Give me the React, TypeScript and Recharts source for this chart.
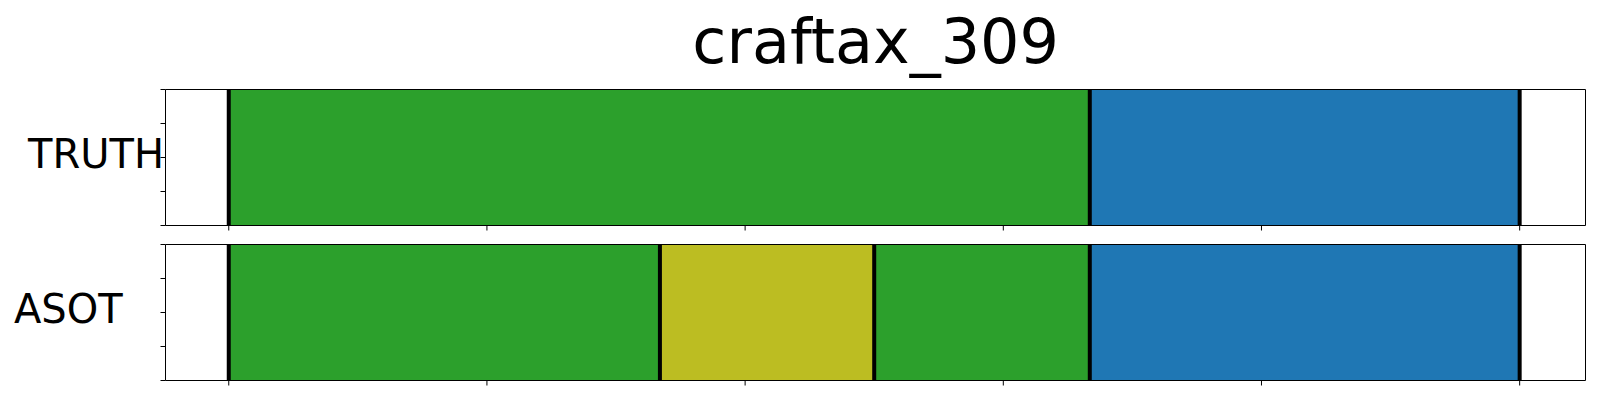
import React from 'react';
import { ComposedChart, XAxis, YAxis, ReferenceArea, ReferenceLine } from 'recharts';

const title = 'craftax_309';
const panelNames = ['TRUTH', 'ASOT'];
const truthStarts = [0, 333.5];
const truthEnds = [333.5, 500];
const truthColors = ['#2ca02c', '#1f77b4'];
const asotStarts = [0, 167, 250, 333.5];
const asotEnds = [167, 250, 333.5, 500];
const asotColors = ['#2ca02c', '#bcbd22', '#2ca02c', '#1f77b4'];
const xTicks = [0, 100, 200, 300, 400, 500];
const yTicks = [0, 0.25, 0.5, 0.75, 1];
const xDomain: [number, number] = [-24.5, 525.5];
const yDomain: [number, number] = [0, 1];

const FONT = 'DejaVu Sans, sans-serif';

type Seg = { start: number; end: number; color: string };

function makeSegs(starts: number[], ends: number[], colors: string[]): Seg[] {
  return starts.map((s, i) => ({ start: s, end: ends[i], color: colors[i] }));
}

const blank = () => '';

function Panel({ segs, top }: { segs: Seg[]; top: number }) {
  const bounds = Array.from(new Set(segs.flatMap((s) => [s.start, s.end])));
  return (
    <div style={{ position: 'absolute', left: 0, top, width: 1600, height: 240 }}>
      <ComposedChart
        width={1600}
        height={240}
        data={segs}
        margin={{ top: 88.5, right: 13.5, bottom: 4.5, left: 164.5 }}
      >
        {segs.map((s, i) => (
          <ReferenceArea
            key={'a' + i}
            x1={s.start}
            x2={s.end}
            y1={0}
            y2={1}
            fill={s.color}
            fillOpacity={1}
            stroke="none"
          />
        ))}
        {bounds.map((b, i) => (
          <ReferenceLine key={'l' + i} x={b} stroke="#000" strokeWidth={4} />
        ))}
        <XAxis
          type="number"
          dataKey="start"
          domain={xDomain}
          ticks={xTicks}
          allowDataOverflow
          height={10}
          tickFormatter={blank}
          tickSize={5}
          stroke="#000"
          axisLine={{ stroke: '#000', strokeWidth: 1 }}
          tickLine={{ stroke: '#000', strokeWidth: 1 }}
        />
        <XAxis
          xAxisId="top"
          orientation="top"
          type="number"
          dataKey="start"
          domain={xDomain}
          allowDataOverflow
          height={1}
          tickFormatter={blank}
          tickLine={false}
          stroke="#000"
          axisLine={{ stroke: '#000', strokeWidth: 1 }}
        />
        <YAxis
          type="number"
          domain={yDomain}
          ticks={yTicks}
          allowDataOverflow
          width={1}
          tickFormatter={blank}
          tickSize={5}
          stroke="#000"
          axisLine={{ stroke: '#000', strokeWidth: 1 }}
          tickLine={{ stroke: '#000', strokeWidth: 1 }}
        />
        <YAxis
          yAxisId="right"
          orientation="right"
          type="number"
          domain={yDomain}
          allowDataOverflow
          width={1}
          tickFormatter={blank}
          tickLine={false}
          stroke="#000"
          axisLine={{ stroke: '#000', strokeWidth: 1 }}
        />
      </ComposedChart>
    </div>
  );
}

export default function App() {
  const truthSegs = makeSegs(truthStarts, truthEnds, truthColors);
  const asotSegs = makeSegs(asotStarts, asotEnds, asotColors);
  return (
    <div style={{ position: 'absolute', left: 0, top: 0, width: 1600, height: 400, background: '#fff' }}>
      <svg
        width={1600}
        height={400}
        style={{ position: 'absolute', left: 0, top: 0 }}
      >
        <text x={875.7} y={63} textAnchor="middle" fontFamily={FONT} fontSize={62} fill="#000">
          {title}
        </text>
        <text x={28} y={168} fontFamily={FONT} fontSize={40} fill="#000">
          {panelNames[0]}
        </text>
        <text x={14} y={323} fontFamily={FONT} fontSize={40} fill="#000">
          {panelNames[1]}
        </text>
      </svg>
      <Panel segs={truthSegs} top={0} />
      <Panel segs={asotSegs} top={155} />
    </div>
  );
}
